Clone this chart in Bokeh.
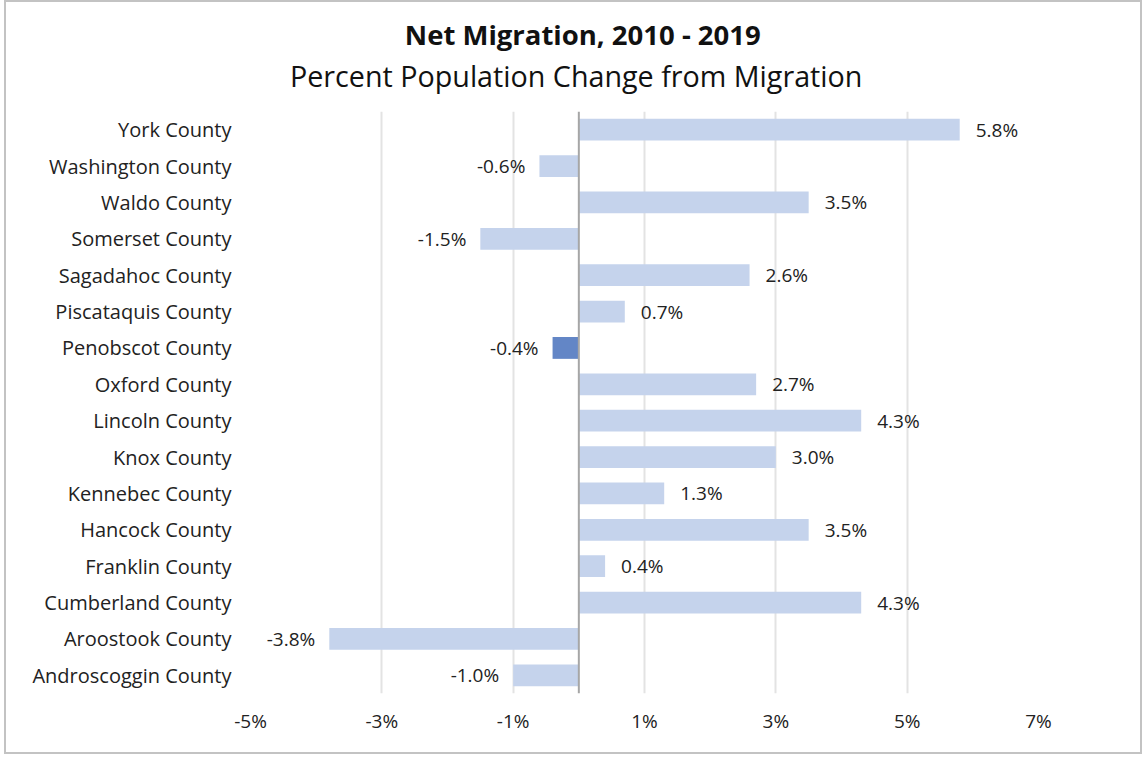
from bokeh.plotting import figure
from bokeh.layouts import column
from bokeh.models import FactorRange, Range1d, FixedTicker, CustomJSTickFormatter, Span, ColumnDataSource
from bokeh.core.properties import value
from bokeh.embed import file_html
from bokeh.resources import INLINE

counties = ["York County", "Washington County", "Waldo County", "Somerset County",
            "Sagadahoc County", "Piscataquis County", "Penobscot County", "Oxford County",
            "Lincoln County", "Knox County", "Kennebec County", "Hancock County",
            "Franklin County", "Cumberland County", "Aroostook County", "Androscoggin County"]
migration = [5.8, -0.6, 3.5, -1.5, 2.6, 0.7, -0.4, 2.7, 4.3, 3.0, 1.3, 3.5, 0.4, 4.3, -3.8, -1.0]
highlight = "Penobscot County"
x_ticks = [-5, -3, -1, 1, 3, 5, 7]
title_text = "Net Migration, 2010 - 2019"
subtitle_text = "Percent Population Change from Migration"

FONT = "Open Sans"
light = "#c5d3ec"
dark = "#6386c6"

W = 1134
TH = 107
MH = 643

# ---- title strip (its frame is aligned with the chart frame by the column layout) ----
t = figure(width=W, height=TH, output_backend="svg", toolbar_location=None,
           x_range=Range1d(-5, 7), y_range=Range1d(0, TH),
           min_border=0, x_axis_type=None, y_axis_type=None)
t.grid.visible = False
t.outline_line_color = None
tsrc = ColumnDataSource(dict(x=[0.06, -0.04], y=[TH - 32, TH - 73],
                             text=[title_text, subtitle_text],
                             size=["27.5px", "28.7px"], style=["bold", "normal"]))
t.text(x="x", y="y", text="text", text_align="center", text_baseline="middle",
       text_font=value(FONT), text_font_size="size", text_font_style="style",
       text_color="#111111", source=tsrc)

# ---- main chart ----
colors = [dark if c == highlight else light for c in counties]
labels = [f"{v:.1f}%" for v in migration]
aligns = ["left" if v >= 0 else "right" for v in migration]
offsets = [16 if v >= 0 else -14 for v in migration]

src = ColumnDataSource(dict(county=counties, val=migration, color=colors,
                            label=labels, align=aligns, off=offsets))

p = figure(width=W, height=MH, output_backend="svg", toolbar_location=None,
           y_range=FactorRange(factors=list(reversed(counties)), range_padding=0),
           x_range=Range1d(-5, 7),
           min_border_left=244, min_border_right=102, min_border_bottom=59, min_border_top=2)

p.hbar(y="county", left=0, right="val", height=0.6, color="color", line_color=None, source=src)
p.text(x="val", y="county", text="label", text_align="align", x_offset="off",
       text_baseline="middle", text_font=value(FONT), text_font_size="19px",
       text_color="#222222", source=src)

p.add_layout(Span(location=0, dimension="height", line_color="#a6a6a6", line_width=2))

p.xaxis.ticker = FixedTicker(ticks=x_ticks)
p.xaxis.formatter = CustomJSTickFormatter(code="return tick + '%';")
p.xgrid.ticker = FixedTicker(ticks=x_ticks)
p.xgrid.grid_line_color = "#e3e3e3"
p.xgrid.grid_line_width = 2
p.ygrid.grid_line_color = None

for ax in (p.xaxis, p.yaxis):
    ax.axis_line_color = None
    ax.major_tick_line_color = None
    ax.minor_tick_line_color = None
    ax.major_label_text_font = FONT
    ax.major_label_text_color = "#222222"
p.xaxis.major_label_text_font_size = "19px"
p.yaxis.major_label_text_font_size = "20px"
p.xaxis.major_label_standoff = 8
p.yaxis.major_label_standoff = 13
p.outline_line_color = None

layout = column(t, p, spacing=0,
                styles={"border": "2px solid #c3c3c3", "margin-left": "4px"})

open("out.html", "w").write(file_html(layout, INLINE))
